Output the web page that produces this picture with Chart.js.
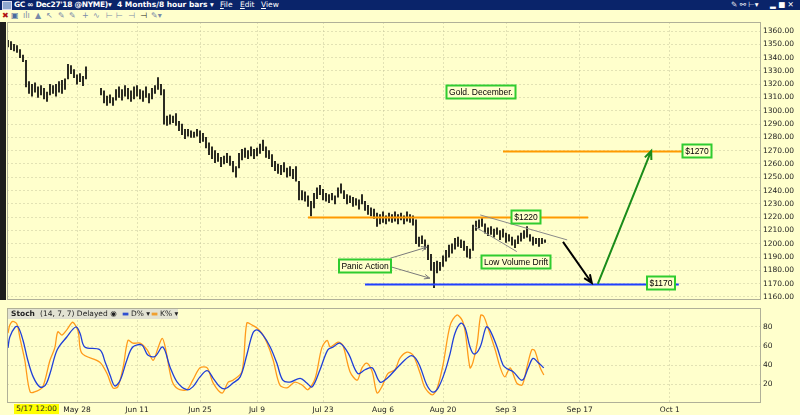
<!DOCTYPE html>
<html>
<head>
<title>GC Dec27'18 - 4 Months/8 hour bars</title>
<script src="https://cdn.jsdelivr.net/npm/chart.js@4.4.0/dist/chart.umd.min.js"></script>
<style>
body { margin:0; width:800px; height:415px; background:#ffffcc; position:relative; overflow:hidden; font-family:"DejaVu Sans", sans-serif; }
.titlebar { position:absolute; left:0; top:0; width:800px; height:10px; background:#0a246a; color:#fff; font-size:7.5px; line-height:10px; white-space:nowrap; }
.titlebar span { position:absolute; top:0; }
.toolbar { position:absolute; left:0; top:10px; width:800px; height:11px; font-size:8px; line-height:11px; color:#7a8aa8; white-space:nowrap; }
.toolbar span { position:absolute; top:0; }
.leftstrip { position:absolute; left:0; top:22px; width:6px; height:278px; background:#1e1e1e; }
#priceChart { position:absolute; left:0; top:22px; }
#stochChart { position:absolute; left:0; top:308px; }
.stochlegend { position:absolute; left:8px; top:309px; width:170px; height:10px; background:#e2e2d2; font-size:7.5px; line-height:10px; color:#222; white-space:nowrap; }
.stochlegend span { position:absolute; top:0; }
.cursorlabel { position:absolute; left:14px; top:404px; height:10px; padding:0 2px; background:#ffff00; font-size:7.5px; line-height:10px; color:#222; }
</style>
</head>
<body>
<div class="titlebar">
    <span style="left:2px; top:1px; width:8px; height:7px; background:#8fa7d0; border:1px solid #dde;"></span>
    <span style="left:14px; font-weight:bold; letter-spacing:-0.3px;">GC ∞ Dec27'18 @NYME)▾</span>
    <span style="left:117px; font-weight:bold;">4 Months/8 hour bars ▾</span>
    <span style="left:220px;"><u>F</u>ile</span>
    <span style="left:240px;"><u>E</u>dit</span>
    <span style="left:261px;"><u>V</u>iew</span>
    <span style="left:731px;">✎ ⚯ ⊢▾</span>
    <span style="left:770px;">▂ ■ ✕</span>
</div>
<div class="toolbar">
    <span style="left:2px; color:#b01010;">✖</span>
    <span style="left:11px; color:#4a6aa0;">▣</span>
    <span style="left:23px;">ılı</span>
    <span style="left:35px;">▲</span>
    <span style="left:46px;">↖</span>
    <span style="left:58px;">✎</span>
    <span style="left:69px;">✎</span>
    <span style="left:82px;">+</span>
    <span style="left:93px;">∿</span>
    <span style="left:106px;">⊢</span>
    <span style="left:116px;">⊢</span>
    <span style="left:128px;">⊣</span>
    <span style="left:140px; color:#222;">⊣</span>
    <span style="left:151px;">✎▾</span>
</div>
<div class="leftstrip"></div>
<canvas id="priceChart" width="800" height="282"></canvas>
<canvas id="stochChart" width="800" height="107"></canvas>
<div class="stochlegend">
    <span style="left:3px; font-weight:bold;">Stoch</span>
    <span style="left:32px;">(14, 7, 7) Delayed ◉</span>
    <span style="left:114px; color:#3050d0;">▬</span>
    <span style="left:123px;">D% ▾</span>
    <span style="left:143px; color:#f0a030;">▬</span>
    <span style="left:152px;">K% ▾</span>
</div>
<div class="cursorlabel">5/17 12:00</div>

<script>
// ---------- x axis: trading days since 5/17 (3 px per 8h bar) ----------
const xMin = -0.167;
const xMax = 125.5;
const dayTicks  = [11.5, 21.5, 32, 41.5, 52.5, 62.5, 72.5, 83, 95.3, 110.3];
const dayLabels = ['May 28', 'Jun 11', 'Jun 25', 'Jul 9', 'Jul 23', 'Aug 6', 'Aug 20', 'Sep 3', 'Sep 17', 'Oct 1'];

// ---------- price bars (2 bars per day step), null = no data ----------
const priceTicks = [1160, 1170, 1180, 1190, 1200, 1210, 1220, 1230, 1240, 1250, 1260,
                    1270, 1280, 1290, 1300, 1310, 1320, 1330, 1340, 1350, 1360];
const barLow = [
    1348, 1346, 1345, 1344, 1340, 1337, 1318, 1313, 1311, 1314,
    1310, 1312, 1309, 1307, 1312, 1313, 1311, 1314, 1313, 1316,
    1324, 1328, 1325, 1320, 1322, 1319, 1324, null, null, null,
    null, 1312, 1306, 1304, 1306, 1304, 1308, 1310, 1308, 1311,
    1309, 1307, 1309, 1311, 1309, 1307, 1310, 1306, 1309, 1313,
    1316, 1312, 1290, 1289, 1290, 1291, 1289, 1285, 1282, 1279,
    1281, 1280, 1280, 1281, 1276, 1277, 1272, 1267, 1264, 1261,
    1262, 1258, 1260, 1261, 1259, 1254, 1250, 1257, 1263, 1265,
    1264, 1266, 1264, 1266, 1268, 1270, 1265, 1264, 1258, 1255,
    1253, 1252, 1254, 1250, 1251, 1249, 1247, 1233, 1233, 1232,
    1228, 1221, 1227, 1234, 1237, 1233, 1232, 1231, 1233, 1230,
    1235, 1238, 1234, 1230, 1231, 1228, 1229, 1226, 1230, 1225,
    1222, 1221, 1219, 1213, 1215, 1216, 1215, 1217, 1216, 1217,
    1215, 1218, 1215, 1217, 1216, 1214, 1200, 1198, 1200, 1196,
    1188, 1180, 1167, 1178, 1180, 1183, 1187, 1190, 1193, 1196,
    1198, 1197, 1195, 1190, 1189, 1195, 1210, 1212, 1213, 1208,
    1206, 1207, 1205, 1207, 1203, 1205, 1201, 1202, 1199, 1197,
    1200, 1202, 1204, 1205, 1202, 1199, 1200, 1198, 1200, 1201
];
const barHigh = [
    1353, 1352, 1350, 1349, 1346, 1342, 1338, 1322, 1320, 1321,
    1318, 1319, 1317, 1314, 1320, 1319, 1320, 1322, 1323, 1324,
    1335, 1334, 1331, 1327, 1328, 1326, 1333, null, null, null,
    null, 1317, 1315, 1311, 1312, 1310, 1316, 1318, 1316, 1319,
    1317, 1315, 1318, 1319, 1316, 1315, 1318, 1313, 1317, 1319,
    1325, 1320, 1316, 1296, 1297, 1296, 1298, 1292, 1290, 1286,
    1286, 1285, 1284, 1286, 1285, 1283, 1280, 1276, 1273, 1270,
    1268, 1265, 1266, 1268, 1266, 1262, 1258, 1268, 1271, 1272,
    1270, 1273, 1271, 1272, 1275, 1278, 1273, 1270, 1267, 1262,
    1260, 1259, 1261, 1257, 1258, 1256, 1258, 1247, 1240, 1239,
    1236, 1232, 1238, 1242, 1244, 1241, 1238, 1237, 1238, 1236,
    1242, 1245, 1240, 1237, 1236, 1235, 1234, 1233, 1237, 1232,
    1229, 1227, 1226, 1223, 1222, 1224, 1221, 1223, 1222, 1224,
    1222, 1223, 1221, 1224, 1222, 1221, 1218, 1205, 1206, 1203,
    1199, 1192, 1186, 1187, 1186, 1191, 1195, 1199, 1200, 1204,
    1205, 1203, 1202, 1198, 1196, 1214, 1217, 1218, 1219, 1215,
    1212, 1213, 1211, 1212, 1210, 1211, 1208, 1207, 1205, 1203,
    1206, 1208, 1210, 1213, 1207, 1205, 1204, 1204, 1204, 1203
];

// ---------- stochastic (14,7,7) ----------
const stochTicks = [20, 40, 60, 80];
const kDay = [0, 0.3, 0.8, 1.5, 2, 2.8, 3.7, 4.8, 5.8, 7, 7.8, 8.3, 9, 9.8, 10.8, 11.7, 12.3, 15.3, 16.5, 17.5,
              18.3, 19.2, 20, 20.8, 22, 23.2, 24.2, 25, 25.7, 26.2, 27.3, 28.3, 29.8, 30.8, 32, 33.2, 34.2, 35.7, 36.7, 37.5,
              39, 39.8, 40.7, 41.5, 42.3, 43.2, 44.2, 45.3, 46.5, 47.8, 49, 50, 51.2, 52.3, 53.2, 53.7, 55, 55.8, 57, 58.2,
              59, 59.8, 60.7, 61.5, 62.3, 63.3, 64.5, 65.3, 66.5, 67.5, 68.7, 69.5, 70.7, 71.5, 72.5, 73.7, 74.8, 75.7, 76.2, 77,
              77.5, 78.2, 78.8, 79.3, 80, 81.2, 82, 82.8, 83.7, 84.8, 85.7, 86.5, 87.3, 87.8, 88.7, 89.3];
const kVal = [73.5, 82, 86, 83, 68, 45, 11.5, 12.5, 17, 45, 58, 75, 71.5, 77, 85, 75, 52.5, 43, 31, 16,
              17, 38, 66, 63, 63, 56, 45, 58, 68, 59, 24, 15, 14, 24, 37, 37, 21, 10.5, 22, 24,
              33, 84, 82, 79, 73.5, 63, 45, 19, 16, 22, 19, 14, 26, 58, 66, 59, 64, 61, 33, 24,
              37, 42, 33, 10.5, 17, 31, 35, 47, 53.5, 50.5, 31, 16, 8.5, 15, 40, 82, 92.6, 87, 75, 37,
              43, 63, 92.6, 91, 79, 56, 38, 27.5, 37, 21, 19, 38, 56, 55, 37, 29.5];
const dDay = [0, 0.3, 1.2, 1.7, 2.5, 3.3, 4.2, 5.3, 6.2, 7, 8.2, 9.8, 11.3, 12, 12.8, 15.3, 16.2, 17, 17.8, 18.7,
              19.8, 20.8, 22.3, 23.3, 24.5, 25.8, 27, 28.2, 29.8, 30.8, 32, 33.2, 34.2, 35.3, 36.2, 37.5, 38.7, 39.8, 40.8, 41.5,
              42.5, 43.7, 44.8, 45.8, 47, 48.7, 49.8, 50.7, 52, 53.3, 54.2, 55.3, 56.7, 58.3, 59.5, 60.7, 62, 63.2, 65.3, 67,
              67.8, 68.7, 69.8, 70.8, 71.7, 72.8, 73.7, 74.5, 75.5, 76.2, 77, 77.7, 78.7, 79.7, 80.3, 81.5, 82.5, 83.2, 84.2, 85.7,
              86.7, 87.5, 88.3, 89.3];
const dVal = [58, 69.5, 80, 80, 66, 45, 27.5, 17, 18.5, 31, 56, 69.5, 80, 73.5, 59, 56, 43, 29.5, 18, 24,
              45, 59, 61, 50.5, 49, 59, 38, 22, 14, 17, 27.5, 34, 26, 17, 15, 21, 27.5, 50.5, 73.5, 77,
              71.5, 59, 42, 24, 22, 26, 21, 17, 35, 56, 59, 63, 52.5, 31, 35, 37, 22, 26, 40, 49.5,
              48, 38, 19, 11.5, 16, 32.6, 52.5, 73.5, 84, 79, 59, 51.5, 59, 80, 77, 59, 40, 36, 33, 24,
              37, 47, 43, 37];

// ---------- drawn annotations (day, price) ----------
const levelPrice = [1220, 1270, 1170];
const levelFrom  = [50, 82.5, 59.5];
const levelTo    = [96.7, 112.5, 111.8];
const levelKind  = ['orange', 'orange', 'blue'];

const segFrom = [[92.5, 1201.4], [98.3, 1169.8], [63.7, 1189.1], [63.7, 1182.8], [78.7, 1221.7], [77.8, 1212.9]];
const segTo   = [[97.3, 1170.5], [107.2, 1269.8], [69.8, 1197.4], [70.3, 1174.1], [93.2, 1202.9], [84.8, 1194.1]];
const segKind = ['black', 'green', 'thin', 'thin', 'plain', 'plain'];

const noteText  = ['Gold. December.', '$1220', '$1270', '$1170', 'Panic Action', 'Low Volume Drift'];
const noteDay   = [78.8, 86.3, 114.9, 108.9, 59.5, 84.7];
const notePrice = [1314.5, 1219.8, 1269.8, 1170.2, 1183.3, 1186.3];

// ---------- styles ----------
const gridColor = 'rgba(190,190,150,0.45)';
const axisFont = { family: 'DejaVu Sans', size: 7.5 };
const lineColors = { orange: '#ff9a00', blue: '#1f3fff' };
const segStyles = {
    black: { color: '#000', width: 2, head: 9 },
    green: { color: '#1a8c1a', width: 2, head: 9 },
    thin:  { color: '#7a7a7a', width: 1, head: 6 },
    plain: { color: '#8a8a8a', width: 1, head: 0 }
};

const bars = [];
barLow.forEach((lo, i) => {
    if (lo !== null) bars.push({ x: i / 2, y: [lo, barHigh[i]] });
});

function dayAxis(showLabels) {
    return {
        type: 'linear', min: xMin, max: xMax, offset: false,
        afterBuildTicks: s => { s.ticks = dayTicks.map(v => ({ value: v })); },
        afterFit: s => { s.paddingLeft = 0; s.paddingRight = 0; s.height = showLabels ? 12 : 0; },
        grid: { color: gridColor, drawTicks: false, offset: false },
        border: { display: false, dash: [2, 2] },
        ticks: { display: showLabels, autoSkip: false, maxRotation: 0, padding: 3, font: axisFont, color: '#222',
                 callback: v => dayLabels[dayTicks.indexOf(v)] }
    };
}

function valueAxis(min, max, tickList, fmt) {
    return {
        position: 'right', min: min, max: max,
        afterBuildTicks: s => { s.ticks = tickList.map(v => ({ value: v })); },
        afterFit: s => { s.width = 39; s.paddingTop = 0; s.paddingBottom = 0; },
        grid: { color: gridColor, drawTicks: false },
        border: { display: false, dash: [2, 2] },
        ticks: { padding: 2, font: axisFont, color: '#222', callback: fmt }
    };
}

const framePlugin = {
    id: 'frame',
    afterDraw(chart) {
        const a = chart.chartArea, ctx = chart.ctx;
        ctx.save();
        ctx.strokeStyle = '#b0b098';
        ctx.lineWidth = 1;
        ctx.strokeRect(a.left + 0.5, a.top + 0.5, a.right - a.left - 1, a.bottom - a.top - 1);
        ctx.restore();
    }
};

function arrowLine(ctx, x1, y1, x2, y2, st) {
    ctx.strokeStyle = st.color;
    ctx.lineWidth = st.width;
    ctx.beginPath();
    ctx.moveTo(x1, y1);
    ctx.lineTo(x2, y2);
    if (st.head) {
        const ang = Math.atan2(y2 - y1, x2 - x1);
        ctx.moveTo(x2 - st.head * Math.cos(ang - 0.4), y2 - st.head * Math.sin(ang - 0.4));
        ctx.lineTo(x2, y2);
        ctx.lineTo(x2 - st.head * Math.cos(ang + 0.4), y2 - st.head * Math.sin(ang + 0.4));
    }
    ctx.stroke();
}

const notesPlugin = {
    id: 'notes',
    afterDatasetsDraw(chart) {
        const { ctx, scales: { x, y } } = chart;
        ctx.save();
        ctx.lineCap = 'butt';
        levelPrice.forEach((p, i) => {
            const py = Math.round(y.getPixelForValue(p)) + 0.5;
            ctx.strokeStyle = lineColors[levelKind[i]];
            ctx.lineWidth = 2;
            ctx.beginPath();
            ctx.moveTo(x.getPixelForValue(levelFrom[i]), py);
            ctx.lineTo(x.getPixelForValue(levelTo[i]), py);
            ctx.stroke();
        });
        segFrom.forEach((f, i) => {
            const t = segTo[i];
            arrowLine(ctx, x.getPixelForValue(f[0]), y.getPixelForValue(f[1]),
                      x.getPixelForValue(t[0]), y.getPixelForValue(t[1]), segStyles[segKind[i]]);
        });
        ctx.font = '8.5px "Liberation Sans", Arial, sans-serif';
        ctx.textAlign = 'center';
        ctx.textBaseline = 'middle';
        noteText.forEach((txt, i) => {
            const cx = Math.round(x.getPixelForValue(noteDay[i]));
            const cy = Math.round(y.getPixelForValue(notePrice[i]));
            const w = Math.round(ctx.measureText(txt).width) + 5;
            const h = 13;
            ctx.fillStyle = '#ffffcc';
            ctx.fillRect(cx - w / 2, cy - h / 2, w, h);
            ctx.strokeStyle = '#2fcc2f';
            ctx.lineWidth = 2;
            ctx.strokeRect(cx - w / 2, cy - h / 2, w, h);
            ctx.fillStyle = '#000';
            ctx.fillText(txt, cx, cy + 0.5);
        });
        ctx.restore();
    }
};

new Chart(document.getElementById('priceChart'), {
    type: 'bar',
    data: {
        datasets: [{
            data: bars,
            backgroundColor: '#000',
            barThickness: 1,
            borderWidth: 0
        }]
    },
    options: {
        responsive: false,
        animation: false,
        layout: { padding: { left: 7, top: 0, right: 0, bottom: 4 } },
        plugins: { legend: { display: false }, tooltip: { enabled: false } },
        scales: {
            x: dayAxis(false),
            y: valueAxis(1157.7, 1366.8, priceTicks, v => v.toFixed(2))
        }
    },
    plugins: [framePlugin, notesPlugin]
});

new Chart(document.getElementById('stochChart'), {
    type: 'line',
    data: {
        datasets: [{
            label: 'D%',
            data: dDay.map((d, i) => ({ x: d, y: dVal[i] })),
            borderColor: '#1f3fd8',
            borderWidth: 1.3,
            pointRadius: 0,
            tension: 0.35
        }, {
            label: 'K%',
            data: kDay.map((d, i) => ({ x: d, y: kVal[i] })),
            borderColor: '#ff9a1a',
            borderWidth: 1.3,
            pointRadius: 0,
            tension: 0.3
        }]
    },
    options: {
        responsive: false,
        animation: false,
        layout: { padding: { left: 7, top: 0, right: 0, bottom: 0 } },
        plugins: { legend: { display: false }, tooltip: { enabled: false } },
        scales: {
            x: dayAxis(true),
            y: valueAxis(0, 100, stochTicks, v => String(v))
        }
    },
    plugins: [framePlugin]
});
</script>
</body>
</html>
